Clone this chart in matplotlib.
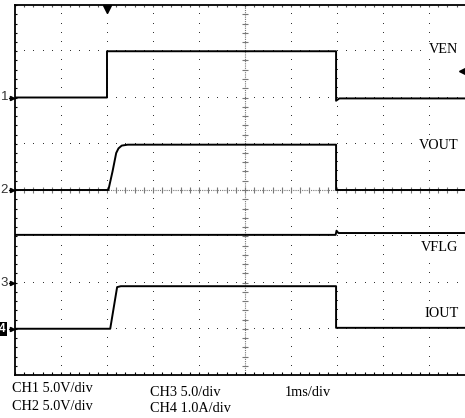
import numpy as np
import matplotlib
matplotlib.use("Agg")
import matplotlib.pyplot as plt

# screen: 10 divisions wide (1 ms/div), 8 divisions tall
# trace data in divisions (time div, vertical div from bottom of screen)
t_ven = [0, 2.0, 2.0, 6.98, 6.98, 7.05, 10]
v_ven = [6.0, 6.0, 7.0, 7.0, 5.93, 5.98, 5.98]

t_vout = [0, 2.03, 2.12, 2.2, 2.25, 2.32, 2.45, 6.98, 6.98, 10]
v_vout = [4.0, 4.0, 4.4, 4.8, 4.9, 4.96, 4.98, 4.98, 4.0, 4.0]

t_vflg = [0, 6.97, 6.99, 7.03, 10]
v_vflg = [3.03, 3.03, 3.12, 3.07, 3.07]

t_iout = [0, 2.07, 2.22, 2.3, 6.98, 6.98, 10]
v_iout = [1.0, 1.0, 1.9, 1.92, 1.92, 1.02, 1.02]

trace_labels = ["VEN", "VOUT", "VFLG", "IOUT"]
label_levels = [7.03, 4.97, 2.75, 1.34]

ch_markers = ["1", "2", "3", "4"]
ch_levels = [6.0, 4.0, 2.0, 1.0]

scale_text = [("CH1 5.0V/div", 12, 389), ("CH2 5.0V/div", 12, 407),
              ("CH3 5.0/div", 150, 392), ("CH4 1.0A/div", 150, 409),
              ("1ms/div", 285, 393)]

W, H = 465, 418
fig = plt.figure(figsize=(W / 100, H / 100), dpi=100)
fig.patch.set_facecolor("white")
# screen spans x 15..475 px (right edge cropped), y 5..375 px
ax = fig.add_axes([15 / W, (H - 375) / H, 460 / W, 370 / H])
ax.set_xlim(0, 10)
ax.set_ylim(0, 8)
ax.set_xticks([])
ax.set_yticks([])
for s in ["left", "top", "bottom"]:
    ax.spines[s].set_linewidth(1.3)
ax.spines["right"].set_visible(False)

minor_x = np.arange(0, 10.01, 0.2)
minor_y = np.arange(0, 8.01, 0.2)

# dotted graticule
for k in range(1, 10):
    if k == 5:
        continue
    ax.plot(np.full(len(minor_y), k), minor_y, ",", color="#333333")
for j in range(1, 8):
    if j == 4:
        continue
    ax.plot(minor_x, np.full(len(minor_x), j), ",", color="#333333")

# center axes with ticks
ax.plot([5, 5], [0, 8], color="#777777", lw=0.8, ls=(0, (1, 1)))
ax.plot([0, 10], [4, 4], color="#777777", lw=0.8, ls=(0, (1, 1)))
ax.hlines(minor_y, 5 - 0.065, 5 + 0.065, color="#777777", lw=0.8)
ax.vlines(minor_x, 4 - 0.06, 4 + 0.06, color="#777777", lw=0.8)

# border ticks
ax.vlines(minor_x, 0, 0.07, color="black", lw=0.8)
ax.hlines(minor_y, 0, 0.05, color="black", lw=0.8)
ax.vlines(minor_x, 8 - 0.05, 8, color="#555555", lw=0.8)

# traces
for t, v in [(t_ven, v_ven), (t_vout, v_vout), (t_vflg, v_vflg), (t_iout, v_iout)]:
    ax.plot(t, v, color="black", lw=1.4, zorder=5)

# trigger markers
ax.plot([2.0], [7.92], marker="v", color="black", ms=6, clip_on=False, zorder=6)
ax.plot([9.71], [6.57], marker="<", color="black", ms=4, clip_on=False, zorder=6)

# trace labels
for lab, lev in zip(trace_labels, label_levels):
    ax.text(9.64, lev, lab, ha="right", va="center", fontsize=10.3,
            family="Liberation Serif", zorder=7,
            bbox=dict(facecolor="white", edgecolor="none", pad=1))

# channel ground markers on the left
for m, lev in zip(ch_markers, ch_levels):
    ax.plot([-0.14, 0], [lev, lev], color="black", lw=0.8, clip_on=False)
    ax.plot([-0.06], [lev], marker=">", color="black", ms=3, clip_on=False)
    if m == "4":
        ax.text(-0.2, lev, m, ha="right", va="center", fontsize=8.5,
                family="Liberation Sans", color="white", fontweight="bold",
                bbox=dict(facecolor="black", edgecolor="none", pad=0.8))
    else:
        ax.text(-0.15, lev, m, ha="right", va="center", fontsize=9.5,
                family="Liberation Sans", color="#333333")

for txt, px, py in scale_text:
    fig.text(px / W, 1 - py / H, txt, ha="left", va="center", fontsize=10.3,
             family="Liberation Serif")

fig.savefig("out.png", dpi=100)
